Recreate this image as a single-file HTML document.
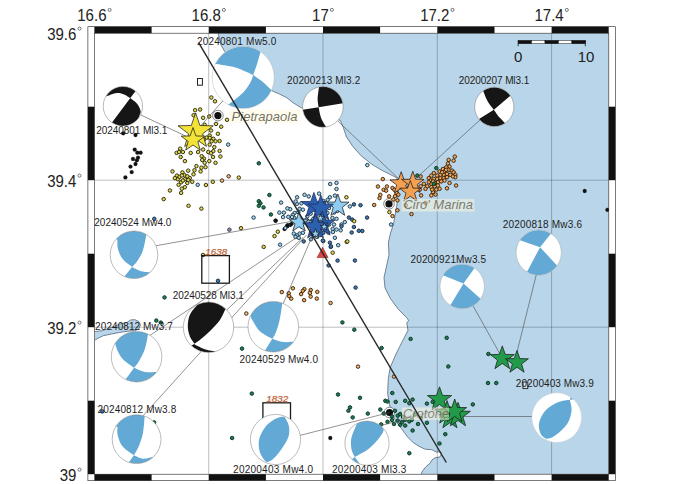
<!DOCTYPE html>
<html><head><meta charset="utf-8"><title>map</title>
<style>html,body{margin:0;padding:0;background:#fff}svg{display:block}text{font-family:"Liberation Sans",sans-serif}</style>
</head><body>
<svg width="673" height="484" viewBox="0 0 673 484">
<rect width="673" height="484" fill="#fff"/>
<path d="M218 33L220.8 44.7L224.5 51.2L235 62L250 75L262 85L271 90.3L279.3 94L286.8 97.7L292.4 102.3L301.7 108L315 112L330 116L340.3 120.4L343.4 127.7L346.5 137L352.8 146.4L361.1 155.8L371.5 164.1L381.9 170.3L392.3 175.5L397 178L398.5 190L397 204L393.5 224L390.5 233L388.4 242.4L389 254.8L386.3 267.2L384 277.5L385 287.9L390.2 298.2L398.5 309.5L406.8 317.8L408.6 320.5L406.8 323L408 330.4L401.3 343.4L395.8 354.5L390.2 367.5L388.3 378.7L387.6 393.6L390 407L393 416L397 423L401.6 428.8L407.4 436.8L413.2 442.6L418.9 446.2L424.7 449.1L432 449.8L436.3 452L440.7 452L441.4 454.1L439.9 457L434.9 457.8L432 459.9L429.8 463.5L426.2 466.4L422.6 470.8L421.1 474.2L608.8 474.2L608.8 33.2Z" fill="#b9d5e9"/>
<path d="M218 33L220.8 44.7L224.5 51.2L235 62L250 75L262 85L271 90.3L279.3 94L286.8 97.7L292.4 102.3L301.7 108L315 112L330 116L340.3 120.4L343.4 127.7L346.5 137L352.8 146.4L361.1 155.8L371.5 164.1L381.9 170.3L392.3 175.5L397 178L398.5 190L397 204L393.5 224L390.5 233L388.4 242.4L389 254.8L386.3 267.2L384 277.5L385 287.9L390.2 298.2L398.5 309.5L406.8 317.8L408.6 320.5L406.8 323L408 330.4L401.3 343.4L395.8 354.5L390.2 367.5L388.3 378.7L387.6 393.6L390 407L393 416L397 423L401.6 428.8L407.4 436.8L413.2 442.6L418.9 446.2L424.7 449.1L432 449.8L436.3 452L440.7 452L441.4 454.1L439.9 457L434.9 457.8L432 459.9L429.8 463.5L426.2 466.4L422.6 470.8L421.1 474.2" fill="none" stroke="#41586c" stroke-width="0.7" stroke-linejoin="round"/>
<path d="M95 331.5L102.4 330.7L111.5 327.4L119.8 324.1L127.2 322.4L130.5 320L134.7 319.6L138.8 321.6L140.5 324.9L138.8 329L134.7 330.7L128 331.2L119.8 332.4L111.5 334L103.3 335.7L98.3 338.1L95 340.1" fill="#b9d5e9" stroke="#41586c" stroke-width="0.7"/>
<line x1="208.7" y1="33.2" x2="208.7" y2="474.2" stroke="#26323c" stroke-width="0.5" stroke-opacity="0.62"/>
<line x1="323" y1="33.2" x2="323" y2="474.2" stroke="#26323c" stroke-width="0.5" stroke-opacity="0.62"/>
<line x1="437.3" y1="33.2" x2="437.3" y2="474.2" stroke="#26323c" stroke-width="0.5" stroke-opacity="0.62"/>
<line x1="551.6" y1="33.2" x2="551.6" y2="474.2" stroke="#26323c" stroke-width="0.5" stroke-opacity="0.62"/>
<line x1="94.4" y1="180.2" x2="608.8" y2="180.2" stroke="#26323c" stroke-width="0.5" stroke-opacity="0.62"/>
<line x1="94.4" y1="327.2" x2="608.8" y2="327.2" stroke="#26323c" stroke-width="0.5" stroke-opacity="0.62"/>
<rect x="87.9" y="26.7" width="527.4" height="6.5" fill="#fff"/>
<rect x="87.9" y="474.2" width="527.4" height="6.5" fill="#fff"/>
<rect x="87.9" y="26.7" width="6.5" height="454" fill="#fff"/>
<rect x="608.8" y="26.7" width="6.5" height="454" fill="#fff"/>
<rect x="94.4" y="26.7" width="57.2" height="6.5" fill="#111"/>
<rect x="94.4" y="474.2" width="57.2" height="6.5" fill="#111"/>
<rect x="208.7" y="26.7" width="57.2" height="6.5" fill="#111"/>
<rect x="208.7" y="474.2" width="57.2" height="6.5" fill="#111"/>
<rect x="323" y="26.7" width="57.1" height="6.5" fill="#111"/>
<rect x="323" y="474.2" width="57.1" height="6.5" fill="#111"/>
<rect x="437.3" y="26.7" width="57.2" height="6.5" fill="#111"/>
<rect x="437.3" y="474.2" width="57.2" height="6.5" fill="#111"/>
<rect x="551.6" y="26.7" width="57.1" height="6.5" fill="#111"/>
<rect x="551.6" y="474.2" width="57.1" height="6.5" fill="#111"/>
<rect x="87.9" y="106.7" width="6.5" height="73.5" fill="#111"/>
<rect x="608.8" y="106.7" width="6.5" height="73.5" fill="#111"/>
<rect x="87.9" y="253.7" width="6.5" height="73.5" fill="#111"/>
<rect x="608.8" y="253.7" width="6.5" height="73.5" fill="#111"/>
<rect x="87.9" y="400.7" width="6.5" height="73.5" fill="#111"/>
<rect x="608.8" y="400.7" width="6.5" height="73.5" fill="#111"/>
<rect x="87.9" y="26.7" width="527.4" height="454" fill="none" stroke="#222" stroke-width="0.6"/>
<rect x="94.4" y="33.2" width="514.4" height="441" fill="none" stroke="#222" stroke-width="0.6"/>
<text transform="translate(106.5 20.8) scale(0.95 1)" font-size="15.8" fill="#222" text-anchor="end">16.6</text>
<circle cx="109.6" cy="9.9" r="1.55" fill="none" stroke="#222" stroke-width="0.6"/>
<text transform="translate(220.8 20.8) scale(0.95 1)" font-size="15.8" fill="#222" text-anchor="end">16.8</text>
<circle cx="223.9" cy="9.9" r="1.55" fill="none" stroke="#222" stroke-width="0.6"/>
<text transform="translate(328.8 20.8) scale(0.95 1)" font-size="15.8" fill="#222" text-anchor="end">17</text>
<circle cx="331.9" cy="9.9" r="1.55" fill="none" stroke="#222" stroke-width="0.6"/>
<text transform="translate(449.4 20.8) scale(0.95 1)" font-size="15.8" fill="#222" text-anchor="end">17.2</text>
<circle cx="452.5" cy="9.9" r="1.55" fill="none" stroke="#222" stroke-width="0.6"/>
<text transform="translate(563.7 20.8) scale(0.95 1)" font-size="15.8" fill="#222" text-anchor="end">17.4</text>
<circle cx="566.8" cy="9.9" r="1.55" fill="none" stroke="#222" stroke-width="0.6"/>
<text transform="translate(76.4 39.5) scale(0.95 1)" font-size="15.8" fill="#222" text-anchor="end">39.6</text>
<circle cx="79.5" cy="28.6" r="1.55" fill="none" stroke="#222" stroke-width="0.6"/>
<text transform="translate(76.4 186.5) scale(0.95 1)" font-size="15.8" fill="#222" text-anchor="end">39.4</text>
<circle cx="79.5" cy="175.6" r="1.55" fill="none" stroke="#222" stroke-width="0.6"/>
<text transform="translate(76.4 333.5) scale(0.95 1)" font-size="15.8" fill="#222" text-anchor="end">39.2</text>
<circle cx="79.5" cy="322.6" r="1.55" fill="none" stroke="#222" stroke-width="0.6"/>
<text transform="translate(76.4 480.5) scale(0.95 1)" font-size="15.8" fill="#222" text-anchor="end">39</text>
<circle cx="79.5" cy="469.6" r="1.55" fill="none" stroke="#222" stroke-width="0.6"/>
<rect x="518.2" y="40.4" width="13.4" height="3.3" fill="#111" stroke="#111" stroke-width="0.5"/>
<rect x="531.6" y="40.4" width="13.4" height="3.3" fill="#fff" stroke="#111" stroke-width="0.5"/>
<rect x="545" y="40.4" width="13.4" height="3.3" fill="#111" stroke="#111" stroke-width="0.5"/>
<rect x="558.5" y="40.4" width="13.4" height="3.3" fill="#fff" stroke="#111" stroke-width="0.5"/>
<rect x="571.9" y="40.4" width="13.4" height="3.3" fill="#111" stroke="#111" stroke-width="0.5"/>
<line x1="518.2" y1="40.4" x2="518.2" y2="46.2" stroke="#111" stroke-width="0.8"/>
<line x1="585.3" y1="40.4" x2="585.3" y2="46.2" stroke="#111" stroke-width="0.8"/>
<text x="518.2" y="62.4" font-size="15" fill="#222" text-anchor="middle">0</text>
<text x="586" y="62.4" font-size="15" fill="#222" text-anchor="middle">10</text>
<clipPath id="mapclip"><rect x="94.4" y="33.2" width="514.4" height="441"/></clipPath>
<g clip-path="url(#mapclip)">
<rect x="197.5" y="78.5" width="4.9" height="6.7" fill="#fff" stroke="#222" stroke-width="1"/>
<rect x="523" y="382" width="4.8" height="6.6" fill="#d4e3ee" stroke="#222" stroke-width="0.9"/>
<circle cx="217.9" cy="115.6" r="5.3" fill="#fff" stroke="#555" stroke-width="0.7"/><circle cx="217.9" cy="115.6" r="3.6" fill="#111"/>
<circle cx="389" cy="203.9" r="5.3" fill="#fff" stroke="#555" stroke-width="0.7"/><circle cx="389" cy="203.9" r="3.6" fill="#111"/>
<circle cx="389.5" cy="412.5" r="5.3" fill="#fff" stroke="#555" stroke-width="0.7"/><circle cx="389.5" cy="412.5" r="3.6" fill="#111"/>
<g fill="#111" stroke="#111" stroke-width="0.3"><circle cx="584.7" cy="191" r="1.9"/><circle cx="607.4" cy="209.8" r="1.9"/><circle cx="135.5" cy="135" r="1.9"/><circle cx="134.7" cy="149.6" r="1.9"/><circle cx="137.3" cy="152.7" r="1.9"/><circle cx="140.6" cy="152.7" r="1.9"/><circle cx="138" cy="157.7" r="1.9"/><circle cx="133" cy="159" r="1.9"/><circle cx="136.8" cy="160.3" r="1.9"/><circle cx="135.5" cy="164" r="1.9"/><circle cx="130.5" cy="166.6" r="1.9"/><circle cx="131.7" cy="172.1" r="1.9"/><circle cx="125.4" cy="177.4" r="1.9"/><circle cx="123.2" cy="133.3" r="1.9"/><circle cx="275.6" cy="220.7" r="1.9"/><circle cx="287.4" cy="226" r="1.9"/><circle cx="330.3" cy="438" r="1.9"/><circle cx="290" cy="225" r="1.9"/><circle cx="284.5" cy="229" r="1.9"/></g>
<g fill="#1f7d52" stroke="#0b3323" stroke-width="0.95"><circle cx="258.8" cy="163.3" r="1.75"/><circle cx="269.4" cy="195" r="1.75"/><circle cx="258.8" cy="201.2" r="1.75"/><circle cx="260.4" cy="203.3" r="1.75"/><circle cx="258.8" cy="205.8" r="1.75"/><circle cx="263.5" cy="207.4" r="1.75"/><circle cx="270.9" cy="214.5" r="1.75"/><circle cx="164.5" cy="297.4" r="1.75"/><circle cx="156.3" cy="320.6" r="1.75"/><circle cx="160.8" cy="322.6" r="1.75"/><circle cx="242" cy="348.6" r="1.75"/><circle cx="251.8" cy="393.6" r="1.75"/><circle cx="154.1" cy="422.4" r="1.75"/><circle cx="232.1" cy="438" r="1.75"/><circle cx="342.4" cy="322.4" r="1.75"/><circle cx="354.3" cy="329.7" r="1.75"/><circle cx="381.6" cy="348" r="1.75"/><circle cx="338" cy="394.5" r="1.75"/><circle cx="360" cy="397.8" r="1.75"/><circle cx="350" cy="407.4" r="1.75"/><circle cx="348.4" cy="410.7" r="1.75"/><circle cx="352.7" cy="417.4" r="1.75"/><circle cx="367.8" cy="413.6" r="1.75"/><circle cx="380.3" cy="409.5" r="1.75"/><circle cx="383.7" cy="413.5" r="1.75"/><circle cx="381.2" cy="424.4" r="1.75"/><circle cx="387.5" cy="421.8" r="1.75"/><circle cx="385.3" cy="400.8" r="1.75"/><circle cx="387.5" cy="401.6" r="1.75"/><circle cx="395.7" cy="401.9" r="1.75"/><circle cx="405.2" cy="400.8" r="1.75"/><circle cx="409.3" cy="403.3" r="1.75"/><circle cx="412.6" cy="399.6" r="1.75"/><circle cx="397.7" cy="415.7" r="1.75"/><circle cx="400.2" cy="414" r="1.75"/><circle cx="397.7" cy="420.6" r="1.75"/><circle cx="400.2" cy="424.8" r="1.75"/><circle cx="401.9" cy="422.3" r="1.75"/><circle cx="405.2" cy="419.8" r="1.75"/><circle cx="405.2" cy="425.6" r="1.75"/><circle cx="409.3" cy="421.4" r="1.75"/><circle cx="411.8" cy="419.8" r="1.75"/><circle cx="412.6" cy="430.5" r="1.75"/><circle cx="409.3" cy="453.2" r="1.75"/><circle cx="448.3" cy="366.5" r="1.75"/><circle cx="488" cy="383" r="1.75"/><circle cx="496.3" cy="383" r="1.75"/><circle cx="472.8" cy="404.4" r="1.75"/><circle cx="426.9" cy="403.6" r="1.75"/><circle cx="432.7" cy="401.9" r="1.75"/><circle cx="426.9" cy="422.8" r="1.75"/><circle cx="445.3" cy="434.2" r="1.75"/><circle cx="439.5" cy="443.5" r="1.75"/><circle cx="392.3" cy="393" r="1.75"/><circle cx="410.6" cy="338.9" r="1.75"/><circle cx="446.7" cy="337.8" r="1.75"/><circle cx="488.4" cy="354" r="1.75"/><circle cx="418" cy="424" r="1.75"/><circle cx="392" cy="420" r="1.75"/><circle cx="394" cy="424" r="1.75"/><circle cx="403" cy="417" r="1.75"/><circle cx="415" cy="414.5" r="1.75"/><circle cx="421" cy="418" r="1.75"/><circle cx="395" cy="410.8" r="1.75"/><circle cx="392" cy="416.4" r="1.75"/></g>
<g fill="#dfd75a" stroke="#2e2c0c" stroke-width="0.95"><circle cx="211.3" cy="97.5" r="1.75"/><circle cx="215" cy="101.3" r="1.75"/><circle cx="195.1" cy="110.2" r="1.75"/><circle cx="200.1" cy="109.5" r="1.75"/><circle cx="193.6" cy="115.2" r="1.75"/><circle cx="203.1" cy="117.8" r="1.75"/><circle cx="209.2" cy="116.5" r="1.75"/><circle cx="227" cy="119.8" r="1.75"/><circle cx="216" cy="123.9" r="1.75"/><circle cx="221.2" cy="126.7" r="1.75"/><circle cx="204.7" cy="124.8" r="1.75"/><circle cx="211" cy="130.5" r="1.75"/><circle cx="217.9" cy="133.8" r="1.75"/><circle cx="209.7" cy="135.5" r="1.75"/><circle cx="213.3" cy="138.8" r="1.75"/><circle cx="215.5" cy="141.3" r="1.75"/><circle cx="219.6" cy="141" r="1.75"/><circle cx="206.7" cy="137.6" r="1.75"/><circle cx="203.9" cy="139.6" r="1.75"/><circle cx="209.7" cy="144.6" r="1.75"/><circle cx="214.3" cy="147.1" r="1.75"/><circle cx="219.6" cy="150.9" r="1.75"/><circle cx="213.3" cy="151.2" r="1.75"/><circle cx="208.3" cy="152" r="1.75"/><circle cx="211" cy="153.2" r="1.75"/><circle cx="203.1" cy="149.5" r="1.75"/><circle cx="198.1" cy="152" r="1.75"/><circle cx="190.7" cy="152.9" r="1.75"/><circle cx="180.2" cy="148.7" r="1.75"/><circle cx="176.6" cy="152.9" r="1.75"/><circle cx="179.1" cy="152" r="1.75"/><circle cx="182.9" cy="152" r="1.75"/><circle cx="180.7" cy="157" r="1.75"/><circle cx="184.9" cy="161.1" r="1.75"/><circle cx="201.7" cy="156.2" r="1.75"/><circle cx="203.9" cy="158.6" r="1.75"/><circle cx="204.7" cy="162.8" r="1.75"/><circle cx="209.3" cy="161.1" r="1.75"/><circle cx="215.5" cy="162.8" r="1.75"/><circle cx="220.4" cy="156.5" r="1.75"/><circle cx="213" cy="157" r="1.75"/><circle cx="196.4" cy="166.1" r="1.75"/><circle cx="201.4" cy="167.7" r="1.75"/><circle cx="205.5" cy="167.2" r="1.75"/><circle cx="194.5" cy="170.2" r="1.75"/><circle cx="200.6" cy="171.4" r="1.75"/><circle cx="188.2" cy="170.7" r="1.75"/><circle cx="182.4" cy="172.4" r="1.75"/><circle cx="172.5" cy="171.4" r="1.75"/><circle cx="176.9" cy="175.6" r="1.75"/><circle cx="193.5" cy="174.3" r="1.75"/><circle cx="189.8" cy="178.1" r="1.75"/><circle cx="184.8" cy="179.3" r="1.75"/><circle cx="177.9" cy="179.3" r="1.75"/><circle cx="181.1" cy="182.3" r="1.75"/><circle cx="187.3" cy="183" r="1.75"/><circle cx="192.2" cy="181.8" r="1.75"/><circle cx="178.6" cy="184.8" r="1.75"/><circle cx="184.8" cy="187.2" r="1.75"/><circle cx="181.8" cy="188.7" r="1.75"/><circle cx="174.9" cy="178.1" r="1.75"/><circle cx="169.9" cy="190.5" r="1.75"/><circle cx="181.1" cy="192.9" r="1.75"/><circle cx="163.7" cy="199.1" r="1.75"/><circle cx="188.5" cy="205.8" r="1.75"/><circle cx="201.4" cy="208.6" r="1.75"/><circle cx="205.9" cy="185" r="1.75"/><circle cx="212.8" cy="181.8" r="1.75"/><circle cx="202.2" cy="160" r="1.75"/><circle cx="238.8" cy="177.6" r="1.75"/><circle cx="203" cy="255" r="1.75"/><circle cx="241" cy="228.2" r="1.75"/><circle cx="332.7" cy="252.7" r="1.75"/><circle cx="346.7" cy="241.9" r="1.75"/><circle cx="182.9" cy="180.5" r="1.75"/><circle cx="179.6" cy="176.8" r="1.75"/><circle cx="184.4" cy="175.1" r="1.75"/><circle cx="187.3" cy="176.3" r="1.75"/><circle cx="181.9" cy="175.5" r="1.75"/><circle cx="188.3" cy="179.9" r="1.75"/><circle cx="211.6" cy="141.3" r="1.75"/><circle cx="209.8" cy="137.9" r="1.75"/></g>
<g fill="#f1a962" stroke="#3a240a" stroke-width="0.95"><circle cx="292.9" cy="288.3" r="1.75"/><circle cx="281.8" cy="292.1" r="1.75"/><circle cx="288.7" cy="293.3" r="1.75"/><circle cx="289.2" cy="296.2" r="1.75"/><circle cx="291.2" cy="298.7" r="1.75"/><circle cx="304.4" cy="289.1" r="1.75"/><circle cx="302.8" cy="290.8" r="1.75"/><circle cx="301.1" cy="294.1" r="1.75"/><circle cx="304.1" cy="300.2" r="1.75"/><circle cx="310.7" cy="290" r="1.75"/><circle cx="309.9" cy="292.9" r="1.75"/><circle cx="310.7" cy="296.6" r="1.75"/><circle cx="317.3" cy="291.9" r="1.75"/><circle cx="316.8" cy="298.6" r="1.75"/><circle cx="454.8" cy="156.6" r="1.75"/><circle cx="453.6" cy="160.7" r="1.75"/><circle cx="448.7" cy="159.9" r="1.75"/><circle cx="447.9" cy="163.5" r="1.75"/><circle cx="449.5" cy="166.5" r="1.75"/><circle cx="446.2" cy="167.3" r="1.75"/><circle cx="442.9" cy="169" r="1.75"/><circle cx="439.6" cy="171.4" r="1.75"/><circle cx="444.5" cy="171.4" r="1.75"/><circle cx="448.7" cy="169.8" r="1.75"/><circle cx="452" cy="170.6" r="1.75"/><circle cx="453.6" cy="172.3" r="1.75"/><circle cx="455.3" cy="174.8" r="1.75"/><circle cx="455.3" cy="177.2" r="1.75"/><circle cx="452.8" cy="176.4" r="1.75"/><circle cx="450.3" cy="174.8" r="1.75"/><circle cx="447" cy="173.9" r="1.75"/><circle cx="443.7" cy="174.8" r="1.75"/><circle cx="440.4" cy="174.8" r="1.75"/><circle cx="437.1" cy="175.6" r="1.75"/><circle cx="433.8" cy="173.1" r="1.75"/><circle cx="431.3" cy="175.6" r="1.75"/><circle cx="428.8" cy="178.1" r="1.75"/><circle cx="430.5" cy="180.5" r="1.75"/><circle cx="433.8" cy="178.9" r="1.75"/><circle cx="437.1" cy="178.9" r="1.75"/><circle cx="440.4" cy="178.1" r="1.75"/><circle cx="443.7" cy="178.1" r="1.75"/><circle cx="447" cy="177.2" r="1.75"/><circle cx="444.5" cy="180.5" r="1.75"/><circle cx="441.2" cy="181.4" r="1.75"/><circle cx="437.9" cy="182.2" r="1.75"/><circle cx="434.6" cy="183" r="1.75"/><circle cx="431.3" cy="183.8" r="1.75"/><circle cx="428.8" cy="182.2" r="1.75"/><circle cx="427.2" cy="186.3" r="1.75"/><circle cx="425.5" cy="188.8" r="1.75"/><circle cx="431.3" cy="187.1" r="1.75"/><circle cx="434.6" cy="186.3" r="1.75"/><circle cx="437.9" cy="185.5" r="1.75"/><circle cx="439.6" cy="188.8" r="1.75"/><circle cx="436.3" cy="189.6" r="1.75"/><circle cx="433" cy="192.1" r="1.75"/><circle cx="435.5" cy="194.6" r="1.75"/><circle cx="431.3" cy="195.4" r="1.75"/><circle cx="449.5" cy="183" r="1.75"/><circle cx="447" cy="188.3" r="1.75"/><circle cx="456.1" cy="185.5" r="1.75"/><circle cx="423.9" cy="183.8" r="1.75"/><circle cx="420.6" cy="186.3" r="1.75"/><circle cx="419.8" cy="189.6" r="1.75"/><circle cx="421.1" cy="195.4" r="1.75"/><circle cx="420.6" cy="176.4" r="1.75"/><circle cx="392.5" cy="188" r="1.75"/><circle cx="396.6" cy="192.9" r="1.75"/><circle cx="395" cy="196.2" r="1.75"/><circle cx="398.3" cy="194.6" r="1.75"/><circle cx="393.3" cy="199.5" r="1.75"/><circle cx="397.4" cy="200.4" r="1.75"/><circle cx="392.5" cy="216.1" r="1.75"/><circle cx="397.4" cy="210.3" r="1.75"/><circle cx="411.5" cy="214.1" r="1.75"/><circle cx="405.7" cy="205.3" r="1.75"/><circle cx="425.5" cy="202.9" r="1.75"/><circle cx="446.2" cy="169.8" r="1.75"/><circle cx="442.1" cy="172.3" r="1.75"/><circle cx="433" cy="181.4" r="1.75"/><circle cx="432.1" cy="189.6" r="1.75"/><circle cx="382.8" cy="179.1" r="1.75"/><circle cx="377.9" cy="186.5" r="1.75"/><circle cx="386.9" cy="186.5" r="1.75"/><circle cx="383.6" cy="189.8" r="1.75"/><circle cx="386.1" cy="190.7" r="1.75"/><circle cx="380.3" cy="194.8" r="1.75"/><circle cx="379.5" cy="198.1" r="1.75"/><circle cx="389.1" cy="196.4" r="1.75"/><circle cx="374.2" cy="205" r="1.75"/><circle cx="394.4" cy="189.8" r="1.75"/></g>
<g fill="#efbd8c" stroke="#3a240a" stroke-width="0.95"><circle cx="330.6" cy="303" r="1.75"/><circle cx="358" cy="366.6" r="1.75"/><circle cx="394" cy="376.6" r="1.75"/><circle cx="222" cy="180.6" r="1.75"/><circle cx="228.7" cy="176.3" r="1.75"/><circle cx="246.3" cy="313.5" r="1.75"/></g>
<g fill="#1f7d52" stroke="#0b3323" stroke-width="0.95"><circle cx="436.3" cy="168.1" r="1.75"/><circle cx="417.3" cy="175.6" r="1.75"/><circle cx="433.8" cy="183.8" r="1.75"/></g>
<g fill="#a3d3ee" stroke="#1c3848" stroke-width="0.95"><circle cx="330.2" cy="184" r="1.75"/><circle cx="336.5" cy="182.9" r="1.75"/><circle cx="336.5" cy="189" r="1.75"/><circle cx="334.9" cy="195.6" r="1.75"/><circle cx="329.9" cy="197.3" r="1.75"/><circle cx="349.8" cy="206.4" r="1.75"/><circle cx="344.8" cy="222.1" r="1.75"/><circle cx="336.5" cy="229.5" r="1.75"/><circle cx="340.7" cy="230.3" r="1.75"/><circle cx="332.9" cy="232" r="1.75"/><circle cx="328.3" cy="232.5" r="1.75"/><circle cx="334.9" cy="237.8" r="1.75"/><circle cx="323.3" cy="241.1" r="1.75"/><circle cx="330.7" cy="246.9" r="1.75"/><circle cx="338.2" cy="245.2" r="1.75"/><circle cx="391.1" cy="224.5" r="1.75"/><circle cx="327.4" cy="213" r="1.75"/><circle cx="332.4" cy="217.9" r="1.75"/><circle cx="336.5" cy="218.8" r="1.75"/><circle cx="334" cy="224.5" r="1.75"/><circle cx="341.5" cy="224.5" r="1.75"/><circle cx="253.6" cy="217.6" r="1.75"/><circle cx="281.1" cy="202.6" r="1.75"/><circle cx="279.4" cy="212.6" r="1.75"/><circle cx="283.9" cy="212.6" r="1.75"/><circle cx="283.1" cy="217.1" r="1.75"/><circle cx="290.2" cy="209.2" r="1.75"/><circle cx="288.3" cy="216.8" r="1.75"/><circle cx="297.1" cy="197.3" r="1.75"/><circle cx="296.8" cy="203.9" r="1.75"/><circle cx="304.5" cy="194.8" r="1.75"/><circle cx="308.7" cy="196.4" r="1.75"/><circle cx="319.1" cy="193.6" r="1.75"/><circle cx="294.6" cy="213" r="1.75"/><circle cx="299.6" cy="208.8" r="1.75"/><circle cx="302.9" cy="209.7" r="1.75"/><circle cx="294.3" cy="217.9" r="1.75"/><circle cx="285.5" cy="227.9" r="1.75"/><circle cx="280.1" cy="244.7" r="1.75"/><circle cx="293.8" cy="233.6" r="1.75"/><circle cx="297.1" cy="235.3" r="1.75"/><circle cx="299.6" cy="233.6" r="1.75"/><circle cx="302.9" cy="232.8" r="1.75"/><circle cx="295.5" cy="236.9" r="1.75"/><circle cx="298.8" cy="237.8" r="1.75"/><circle cx="327.7" cy="199.8" r="1.75"/><circle cx="329" cy="208" r="1.75"/><circle cx="316.9" cy="236.9" r="1.75"/><circle cx="295.5" cy="221.5" r="1.75"/><circle cx="325.4" cy="210.8" r="1.75"/><circle cx="318.5" cy="230.2" r="1.75"/><circle cx="295.6" cy="201.5" r="1.75"/><circle cx="321.5" cy="222.7" r="1.75"/><circle cx="332.7" cy="228.8" r="1.75"/><circle cx="310.6" cy="213.7" r="1.75"/><circle cx="301.4" cy="203.3" r="1.75"/><circle cx="313.3" cy="218.7" r="1.75"/><circle cx="307.3" cy="216.3" r="1.75"/><circle cx="315.7" cy="225.3" r="1.75"/><circle cx="326.8" cy="219.5" r="1.75"/><circle cx="287.8" cy="225.4" r="1.75"/><circle cx="292.8" cy="214.9" r="1.75"/><circle cx="292.1" cy="217" r="1.75"/><circle cx="301.5" cy="219.6" r="1.75"/><circle cx="323.4" cy="201.1" r="1.75"/><circle cx="308.1" cy="224.9" r="1.75"/><circle cx="310.7" cy="221.4" r="1.75"/><circle cx="313.4" cy="204.9" r="1.75"/><circle cx="319.6" cy="207.3" r="1.75"/><circle cx="337.3" cy="210.9" r="1.75"/><circle cx="321.3" cy="217" r="1.75"/><circle cx="325.5" cy="215.5" r="1.75"/><circle cx="329.1" cy="224.5" r="1.75"/><circle cx="313.9" cy="207.6" r="1.75"/><circle cx="334.2" cy="212.5" r="1.75"/><circle cx="315.8" cy="219.5" r="1.75"/><circle cx="314.5" cy="209.8" r="1.75"/><circle cx="298.3" cy="212.2" r="1.75"/><circle cx="320" cy="235.1" r="1.75"/><circle cx="325.2" cy="229.6" r="1.75"/><circle cx="322.5" cy="225.4" r="1.75"/><circle cx="315.3" cy="228.7" r="1.75"/><circle cx="323.8" cy="203.4" r="1.75"/><circle cx="327.1" cy="225.5" r="1.75"/><circle cx="312.8" cy="233.3" r="1.75"/><circle cx="301.7" cy="226.5" r="1.75"/><circle cx="332.9" cy="204.9" r="1.75"/><circle cx="312" cy="224.8" r="1.75"/><circle cx="325.6" cy="206" r="1.75"/><circle cx="306.4" cy="219.7" r="1.75"/><circle cx="313.5" cy="235.7" r="1.75"/><circle cx="310.9" cy="239.3" r="1.75"/><circle cx="320.8" cy="220.6" r="1.75"/><circle cx="287.4" cy="208.4" r="1.75"/><circle cx="228.2" cy="144.6" r="1.75"/><circle cx="197.7" cy="184.8" r="1.75"/><circle cx="367.3" cy="165.1" r="1.75"/></g>
<g fill="#3f7bb0" stroke="#16283c" stroke-width="0.95"><circle cx="353.9" cy="204.4" r="1.75"/><circle cx="360.5" cy="205.2" r="1.75"/><circle cx="367.1" cy="217.6" r="1.75"/><circle cx="348.9" cy="217.6" r="1.75"/><circle cx="352.2" cy="219.6" r="1.75"/><circle cx="353.9" cy="227" r="1.75"/><circle cx="358.8" cy="230.8" r="1.75"/><circle cx="351.7" cy="232.5" r="1.75"/><circle cx="341.5" cy="226.2" r="1.75"/><circle cx="329.9" cy="242.7" r="1.75"/><circle cx="323.3" cy="232.8" r="1.75"/><circle cx="303.7" cy="241.4" r="1.75"/><circle cx="322.8" cy="240.6" r="1.75"/><circle cx="331" cy="246.4" r="1.75"/><circle cx="328.6" cy="265.4" r="1.75"/><circle cx="337.6" cy="260.6" r="1.75"/><circle cx="354.9" cy="260.5" r="1.75"/><circle cx="355.6" cy="287.6" r="1.75"/><circle cx="362.3" cy="231" r="1.75"/><circle cx="218" cy="280.8" r="1.75"/><circle cx="154.3" cy="218.8" r="1.75"/><circle cx="102.3" cy="411.4" r="1.75"/></g>
<g fill="#9294ae" stroke="#33344a" stroke-width="0.95"><circle cx="229.4" cy="229.7" r="1.75"/></g>
<g fill="#111" stroke="#111" stroke-width="0.3"><circle cx="287.4" cy="225.5" r="1.9"/><circle cx="291.6" cy="223.8" r="1.9"/><circle cx="275.6" cy="220.6" r="1.9"/></g>
<g fill="#dfd75a" stroke="#2e2c0c" stroke-width="0.95"><circle cx="346.4" cy="197.3" r="1.75"/><circle cx="354.2" cy="221.2" r="1.75"/><circle cx="347.3" cy="241.4" r="1.75"/><circle cx="389.4" cy="212.1" r="1.75"/><circle cx="277.8" cy="231.7" r="1.75"/><circle cx="274.5" cy="236.1" r="1.75"/><circle cx="263.7" cy="246.9" r="1.75"/></g>
<rect x="201.8" y="255.6" width="27.6" height="27.6" fill="none" stroke="#1a1a1a" stroke-width="1.3"/>
<rect x="262.9" y="402.8" width="27.6" height="27.6" fill="none" stroke="#1a1a1a" stroke-width="1.3"/>
<line x1="122.9" y1="106.5" x2="193" y2="139.5" stroke="#4a4a4a" stroke-width="0.6"/>
<line x1="243" y1="78" x2="197" y2="130" stroke="#4a4a4a" stroke-width="0.6"/>
<line x1="322.9" y1="106.9" x2="401" y2="181" stroke="#4a4a4a" stroke-width="0.6"/>
<line x1="494.3" y1="106.9" x2="413" y2="181" stroke="#4a4a4a" stroke-width="0.6"/>
<line x1="134" y1="249.7" x2="297" y2="220.4" stroke="#4a4a4a" stroke-width="0.6"/>
<line x1="143" y1="340" x2="299" y2="236" stroke="#4a4a4a" stroke-width="0.6"/>
<line x1="208.5" y1="327.3" x2="303" y2="237.5" stroke="#4a4a4a" stroke-width="0.6"/>
<line x1="143" y1="415.8" x2="306.5" y2="235" stroke="#4a4a4a" stroke-width="0.6"/>
<line x1="273.3" y1="326.7" x2="314" y2="232" stroke="#4a4a4a" stroke-width="0.6"/>
<line x1="275.5" y1="441.7" x2="389.5" y2="412.5" stroke="#4a4a4a" stroke-width="0.6"/>
<line x1="367" y1="429.5" x2="447" y2="407.3" stroke="#4a4a4a" stroke-width="0.6"/>
<line x1="462.2" y1="286.4" x2="502.3" y2="358.2" stroke="#4a4a4a" stroke-width="0.6"/>
<line x1="541.8" y1="252.6" x2="514.5" y2="362" stroke="#4a4a4a" stroke-width="0.6"/>
<line x1="556.7" y1="416.5" x2="455" y2="416.5" stroke="#4a4a4a" stroke-width="0.6"/>
<path d="M195.6 113L199.9 125.5L213.2 125.8L202.6 133.8L206.5 146.5L195.6 138.9L184.7 146.5L188.6 133.8L178 125.8L191.3 125.5Z" fill="#f3e338" stroke="#1c1c1c" stroke-width="0.75" stroke-linejoin="miter"/>
<path d="M193 127.5L195.9 136L204.9 136.1L197.8 141.5L200.3 150.1L193 145L185.7 150.1L188.2 141.5L181.1 136.1L190.1 136Z" fill="#f3e338" stroke="#1c1c1c" stroke-width="0.75" stroke-linejoin="miter"/>
<path d="M401.2 171.7L404 179.7L412.4 179.9L405.7 185L408.1 193L401.2 188.2L394.3 193L396.7 185L390 179.9L398.4 179.7Z" fill="#f4a050" stroke="#1c1c1c" stroke-width="0.75" stroke-linejoin="miter"/>
<path d="M412.8 171.2L415.6 179.2L424 179.4L417.3 184.5L419.7 192.5L412.8 187.7L405.9 192.5L408.3 184.5L401.6 179.4L410 179.2Z" fill="#f4a050" stroke="#1c1c1c" stroke-width="0.75" stroke-linejoin="miter"/>
<path d="M410.3 180.5L413 188.1L421 188.3L414.6 193.2L416.9 200.9L410.3 196.3L403.7 200.9L406 193.2L399.6 188.3L407.6 188.1Z" fill="#f4a050" stroke="#1c1c1c" stroke-width="0.75" stroke-linejoin="miter"/>
<path d="M337.8 194L340.6 202L349 202.2L342.3 207.3L344.7 215.3L337.8 210.5L330.9 215.3L333.3 207.3L326.6 202.2L335 202Z" fill="#8fccf1" stroke="#1c1c1c" stroke-width="0.75" stroke-linejoin="miter"/>
<path d="M299 212L301.5 219.1L309 219.3L303 223.8L305.2 231L299 226.7L292.8 231L295 223.8L289 219.3L296.5 219.1Z" fill="#8fccf1" stroke="#1c1c1c" stroke-width="0.75" stroke-linejoin="miter"/>
<path d="M313.9 192.4L317 201.4L326.5 201.6L319 207.3L321.7 216.5L313.9 211L306.1 216.5L308.8 207.3L301.3 201.6L310.8 201.4Z" fill="#2d5fb0" stroke="#1b2c55" stroke-width="0.75" stroke-linejoin="miter"/>
<path d="M320.8 195L323.9 204L333.4 204.2L325.9 209.9L328.6 219.1L320.8 213.6L313 219.1L315.7 209.9L308.2 204.2L317.7 204Z" fill="#2d5fb0" stroke="#1b2c55" stroke-width="0.75" stroke-linejoin="miter"/>
<path d="M322.3 211L325.4 220L334.9 220.2L327.4 225.9L330.1 235.1L322.3 229.6L314.5 235.1L317.2 225.9L309.7 220.2L319.2 220Z" fill="#2d5fb0" stroke="#1b2c55" stroke-width="0.75" stroke-linejoin="miter"/>
<path d="M315.5 213.5L318.7 222.6L328.3 222.8L320.6 228.7L323.4 237.9L315.5 232.4L307.6 237.9L310.4 228.7L302.7 222.8L312.3 222.6Z" fill="#2d5fb0" stroke="#1b2c55" stroke-width="0.75" stroke-linejoin="miter"/>
<path d="M315.5 228.8L316.7 232.2L320.3 232.3L317.4 234.4L318.4 237.8L315.5 235.8L312.6 237.8L313.6 234.4L310.7 232.3L314.3 232.2Z" fill="#8fccf1" stroke="#1c1c1c" stroke-width="0.75" stroke-linejoin="miter"/>
<path d="M320.5 214.1L321.5 216.9L324.5 217L322.1 218.8L323 221.7L320.5 220L318 221.7L318.9 218.8L316.5 217L319.5 216.9Z" fill="#8fccf1" stroke="#1c1c1c" stroke-width="0.75" stroke-linejoin="miter"/>
<path d="M324.2 222.6L325.2 225.4L328.2 225.5L325.8 227.3L326.7 230.2L324.2 228.5L321.7 230.2L322.6 227.3L320.2 225.5L323.2 225.4Z" fill="#8fccf1" stroke="#1c1c1c" stroke-width="0.75" stroke-linejoin="miter"/>
<path d="M439.5 386.8L442.5 395.4L451.6 395.6L444.3 401.1L447 409.8L439.5 404.6L432 409.8L434.7 401.1L427.4 395.6L436.5 395.4Z" fill="#219a49" stroke="#1c1c1c" stroke-width="0.75" stroke-linejoin="miter"/>
<path d="M447 400.5L449.9 409L458.9 409.1L451.8 414.5L454.3 423.1L447 418L439.7 423.1L442.2 414.5L435.1 409.1L444.1 409Z" fill="#219a49" stroke="#1c1c1c" stroke-width="0.75" stroke-linejoin="miter"/>
<path d="M449.9 406L452.7 414.1L461.3 414.3L454.5 419.5L457 427.7L449.9 422.8L442.8 427.7L445.3 419.5L438.5 414.3L447.1 414.1Z" fill="#219a49" stroke="#1c1c1c" stroke-width="0.75" stroke-linejoin="miter"/>
<path d="M458 402.3L461.1 411.1L470.4 411.3L462.9 416.9L465.6 425.8L458 420.5L450.4 425.8L453.1 416.9L445.6 411.3L454.9 411.1Z" fill="#219a49" stroke="#1c1c1c" stroke-width="0.75" stroke-linejoin="miter"/>
<path d="M454.7 399L457.6 407.5L466.6 407.6L459.5 413L462 421.6L454.7 416.5L447.4 421.6L449.9 413L442.8 407.6L451.8 407.5Z" fill="#219a49" stroke="#1c1c1c" stroke-width="0.75" stroke-linejoin="miter"/>
<path d="M502.3 345.9L505.3 354.4L514.3 354.6L507.1 360.1L509.7 368.7L502.3 363.5L494.9 368.7L497.5 360.1L490.3 354.6L499.3 354.4Z" fill="#219a49" stroke="#1c1c1c" stroke-width="0.75" stroke-linejoin="miter"/>
<path d="M517 350.5L519.8 358.6L528.4 358.8L521.6 364L524.1 372.2L517 367.3L509.9 372.2L512.4 364L505.6 358.8L514.2 358.6Z" fill="#219a49" stroke="#1c1c1c" stroke-width="0.75" stroke-linejoin="miter"/>
<rect x="229.5" y="109.8" width="71" height="13.4" fill="#fff8dc" opacity="0.5"/>
<text x="231.6" y="121" font-size="13" fill="#5c5c50" font-style="italic" fill-opacity="0.88">Pietrapaola</text>
<rect x="401.5" y="199" width="73" height="12.6" fill="#fff8dc" opacity="0.5"/>
<text x="403.4" y="209.4" font-size="13" fill="#5c5c50" font-style="italic" fill-opacity="0.8">Ciro' Marina</text>
<rect x="402" y="407.4" width="47" height="12.6" fill="#fff8dc" opacity="0.5"/>
<text x="402.9" y="418.4" font-size="13" fill="#5c5c50" font-style="italic" fill-opacity="0.7">Crotone</text>
<path d="M322.6 247.3L328.1 257.6L317.1 257.6Z" fill="#e2443f" stroke="#5a1a18" stroke-width="0.5"/>
<clipPath id="c1"><circle cx="122.9" cy="106.2" r="19.7"/></clipPath><circle cx="122.9" cy="106.2" r="19.7" fill="#fff"/><g clip-path="url(#c1)" fill="#161616"><path d="M105.9 96.3A19.7 19.7 0 0 1 135.7 91.2L135.3 91.6L130.3 98.1L130.3 98.1C129.3 97.5 126.3 95.2 124.1 94.4C121.8 93.5 119.8 92.7 116.8 93C113.8 93.3 107.8 95.8 106 96.4Z"/><path d="M130.3 98.1C131.4 99.1 135.4 101.7 137.1 103.8C138.8 106 140.3 109.1 140.6 111.1C141 113.2 139.6 114.9 139.3 116C138.9 117.2 138.8 117.7 138.7 118L138.7 118A19.7 19.7 0 0 1 112 122.6Z"/></g><circle cx="122.9" cy="106.2" r="19.7" fill="none" stroke="#777" stroke-width="0.5"/>
<clipPath id="c2"><circle cx="243.2" cy="77.5" r="31.1"/></clipPath><circle cx="243.2" cy="77.5" r="31.1" fill="#fff"/><g clip-path="url(#c2)" fill="#62a9d5"><path d="M215.2 64A31.1 31.1 0 0 1 260.6 51.7L260.6 51.7C260 53.7 258.4 59.6 257.2 63.5C256 67.4 253.8 73.1 253.2 75L253.2 75C250.2 73.8 241.8 69.4 235.4 67.5C229 65.7 218.3 64.4 214.9 63.8Z"/><path d="M253.2 75C254.9 76.3 260.3 79.8 263.4 82.5C266.6 85.1 270.7 89.5 272.1 90.9L271.4 90.6A31.1 31.1 0 0 1 228.1 104.7L228 104.9C230.4 102.8 239.2 96.5 242.9 92.7C246.6 89 248.6 85.4 250.4 82.5C252.1 79.5 252.7 76.3 253.2 75Z"/></g><circle cx="243.2" cy="77.5" r="31.1" fill="none" stroke="#aaa" stroke-width="0.4"/>
<clipPath id="c3"><circle cx="322.9" cy="106.9" r="20.3"/></clipPath><circle cx="322.9" cy="106.9" r="20.3" fill="#fff"/><g clip-path="url(#c3)" fill="#161616"><path d="M319 87A20.3 20.3 0 0 1 342.9 103.3L343 103.2L318.6 107.3L318.6 107.3C318.5 105.9 317.6 102.4 317.6 99C317.7 95.6 318.8 89 319 87Z"/><path d="M318.6 107.3C319 109.1 319.9 114.6 321.1 117.9C322.3 121.1 325.1 125.3 325.9 126.8L326 127A20.3 20.3 0 0 1 302.8 109.8Z"/></g><circle cx="322.9" cy="106.9" r="20.3" fill="none" stroke="#777" stroke-width="0.5"/>
<clipPath id="c4"><circle cx="494.3" cy="106.9" r="19.6"/></clipPath><circle cx="494.3" cy="106.9" r="19.6" fill="#fff"/><g clip-path="url(#c4)" fill="#161616"><path d="M483.2 90.8A19.6 19.6 0 0 1 510.4 95.7L510.4 95.7L493.9 109.8L493.9 109.8C492.9 108.4 489.4 104.4 487.6 101.2C485.8 98 483.9 92.6 483.1 90.8Z"/><path d="M493.9 109.8C494.7 110.9 496.6 114.1 498.4 116.3C500.3 118.5 504 122 505.1 123.2L505.2 123.2A19.6 19.6 0 0 1 479 119.1Z"/></g><circle cx="494.3" cy="106.9" r="19.6" fill="none" stroke="#777" stroke-width="0.5"/>
<clipPath id="c5"><circle cx="134" cy="254.8" r="23.8"/></clipPath><circle cx="134" cy="254.8" r="23.8" fill="#fff"/><g clip-path="url(#c5)" fill="#62a9d5"><path d="M116.3 238.9A23.8 23.8 0 0 1 146.4 234.5L146.4 234.3C145.8 237 144.5 246 142.9 250.5C141.4 255 138.9 258.5 137.1 261.2C135.3 264 132.9 266 132.1 266.9L132.1 266.9C130.6 265.7 125.4 262.5 123.1 259.6C120.7 256.7 119 252.9 118.1 249.6C117.1 246.3 117.5 241.4 117.3 239.8Z"/><path d="M132.1 266.9C133.6 267.7 138.1 270.3 141.4 271.2C144.6 272.1 149.9 272.2 151.6 272.4L150.8 271.6A23.8 23.8 0 0 1 124.4 276.6Z"/></g><circle cx="134" cy="254.8" r="23.8" fill="none" stroke="#777" stroke-width="0.5"/>
<clipPath id="c6"><circle cx="208.5" cy="327.3" r="25.2"/></clipPath><circle cx="208.5" cy="327.3" r="25.2" fill="#fff"/><g clip-path="url(#c6)" fill="#161616"><path d="M197.1 304.8A25.2 25.2 0 0 1 225.5 308.7L225.6 308.7C224.6 310.6 222.2 316.7 219.6 320.5C216.9 324.3 213 328.1 209.8 331.3C206.6 334.5 203 337.6 200.4 339.6C197.9 341.7 195.6 343 194.6 343.7L194.6 343.7C193.8 342.5 191 339.3 189.9 336.4C188.7 333.5 187.8 329.9 187.8 326.3C187.8 322.7 188.3 318.3 189.9 314.7C191.4 311.1 195.9 306.5 197.2 304.9Z"/><path d="M194.1 343.9C194.8 344.3 196.3 345.4 198.2 346.3C200.1 347.3 202.5 348.7 205.5 349.6C208.5 350.5 214.3 351.4 216.1 351.7L215.9 351.4A25.2 25.2 0 0 1 191.4 345.8Z"/></g><circle cx="208.5" cy="327.3" r="25.2" fill="none" stroke="#777" stroke-width="0.5"/>
<clipPath id="c7"><circle cx="136.6" cy="356.7" r="25.3"/></clipPath><circle cx="136.6" cy="356.7" r="25.3" fill="#fff"/><g clip-path="url(#c7)" fill="#62a9d5"><path d="M114.8 343.9A25.3 25.3 0 0 1 147.9 334.1L148.2 333.4C147.6 336.1 146.3 345 144.7 349.6C143.1 354.3 140.6 358.2 138.9 361.3C137.1 364.3 134.9 366.7 134.1 367.8L134.1 367.8C132.3 366.4 126 362.4 123.2 359.5C120.4 356.6 118.7 352.9 117.4 350.4C116.1 347.8 115.7 345.1 115.3 344.1Z"/><path d="M134.1 367.8C135.8 368.5 140.8 371.2 144.7 371.9C148.6 372.6 155.4 372.1 157.6 372.1L156.9 371.8A25.3 25.3 0 0 1 125.5 379.4Z"/></g><circle cx="136.6" cy="356.7" r="25.3" fill="none" stroke="#777" stroke-width="0.5"/>
<clipPath id="c8"><circle cx="273.3" cy="326.7" r="25.3"/></clipPath><circle cx="273.3" cy="326.7" r="25.3" fill="#fff"/><g clip-path="url(#c8)" fill="#62a9d5"><path d="M250.3 316.1A25.3 25.3 0 0 1 282.3 303.1L282.4 302.7C281.9 305.5 280.8 314.8 279.6 319.9C278.5 324.9 276.8 329.9 275.6 333C274.4 336.2 272.8 337.9 272.3 338.8L272.3 338.8C270.2 337.6 263.2 334.3 259.9 331.3C256.6 328.2 254.2 323.2 252.6 320.6C251 318.1 250.7 316.8 250.3 316.1Z"/><path d="M272.3 338.8C274.1 339.4 279.4 341.7 283.2 342.1C287 342.6 293.1 341.7 295.1 341.6L294.1 341.1A25.3 25.3 0 0 1 265 350.6Z"/></g><circle cx="273.3" cy="326.7" r="25.3" fill="none" stroke="#777" stroke-width="0.5"/>
<clipPath id="c9"><circle cx="136.6" cy="439.2" r="24.4"/></clipPath><circle cx="136.6" cy="439.2" r="24.4" fill="#fff"/><g clip-path="url(#c9)" fill="#62a9d5"><path d="M115.9 426.2A24.4 24.4 0 0 1 144.5 416.1L144.7 416C144.4 418.9 143.9 428.1 142.9 433.1C142 438.1 140.3 442.6 138.8 446.3C137.3 450 134.7 453.8 133.9 455.3L133.9 455.3C132 453.8 125.2 449.7 122.4 446.3C119.7 442.9 118.4 438 117.6 434.8C116.8 431.6 117.6 428.5 117.6 427.2Z"/><path d="M133.9 455.3C135.4 455.9 139.7 458.5 142.9 458.7C146.2 459 151.7 457.1 153.4 456.8L153.5 456.8A24.4 24.4 0 0 1 128.9 462.3Z"/></g><circle cx="136.6" cy="439.2" r="24.4" fill="none" stroke="#777" stroke-width="0.5"/>
<clipPath id="c10"><circle cx="275.5" cy="439.5" r="25.1"/></clipPath><circle cx="275.5" cy="439.5" r="25.1" fill="#fff"/><g clip-path="url(#c10)" fill="#62a9d5"><path d="M284.5 416.7C283.6 416.8 280.8 416.7 278.8 417.4C276.7 418.1 274.4 419.2 272.2 420.7C270.1 422.2 267.6 424.1 265.7 426.4C263.8 428.8 261.9 432 260.7 434.7C259.5 437.5 258.8 440.1 258.7 443C258.5 445.9 259.1 449.5 259.8 452.1C260.6 454.6 262.1 456.9 263.2 458.6C264.3 460.3 265.9 461.7 266.5 462.3L266.5 462.3C267.4 461.9 270.2 461.4 272.2 459.8C274.3 458.2 276.7 455.4 278.8 452.8C280.8 450.3 282.9 447.1 284.5 444.5C286.1 441.9 287.5 439.6 288.3 437.2C289.1 434.9 289.3 432.7 289.3 430.5C289.3 428.2 289.1 426.2 288.3 423.9C287.5 421.6 285.2 417.9 284.5 416.7Z"/></g><circle cx="275.5" cy="439.5" r="25.1" fill="none" stroke="#777" stroke-width="0.5"/>
<clipPath id="c11"><circle cx="367" cy="443.2" r="22.1"/></clipPath><circle cx="367" cy="443.2" r="22.1" fill="#fff"/><g clip-path="url(#c11)" fill="#62a9d5"><path d="M357 423.5A22.1 22.1 0 0 1 380.8 425.9L380.7 426C381.2 426.7 384.1 428.3 383.6 430.6C383.1 432.9 380.3 436.6 377.8 439.7C375.4 442.7 371.6 446.4 368.8 448.7C365.9 451.1 362.9 452.4 360.6 453.8C358.3 455.2 355.8 456.6 354.8 457.1L354.8 457.1C354.3 455.9 352.2 452.5 351.5 449.6C350.9 446.7 350.7 442.8 351.1 439.7C351.5 436.5 353 433.3 354 430.6C355 427.9 356.5 424.7 357.1 423.5Z"/><path d="M354.8 457.1C355.3 457.7 356.3 459.2 357.3 460.4C358.2 461.7 360 463.9 360.6 464.6L360.5 464.3A22.1 22.1 0 0 1 351.8 459.3Z"/></g><circle cx="367" cy="443.2" r="22.1" fill="none" stroke="#777" stroke-width="0.5"/>
<clipPath id="c12"><circle cx="462.2" cy="286.5" r="22.2"/></clipPath><circle cx="462.2" cy="286.5" r="22.2" fill="#fff"/><g clip-path="url(#c12)" fill="#62a9d5"><path d="M443 275.3A22.2 22.2 0 0 1 474.6 268.1L474.6 267.9L463.5 283.4L463.5 283.4L443.6 275.4Z"/><path d="M463.5 283.4L481.1 299.2L480.7 298.8A22.2 22.2 0 0 1 450.3 305.2L450.2 305.4L463.5 283.4Z"/></g><circle cx="462.2" cy="286.5" r="22.2" fill="none" stroke="#999" stroke-width="0.4"/>
<clipPath id="c13"><circle cx="538.7" cy="252.6" r="22.6"/></clipPath><circle cx="538.7" cy="252.6" r="22.6" fill="#fff"/><g clip-path="url(#c13)" fill="#62a9d5"><path d="M519.9 240.1A22.6 22.6 0 0 1 551 233.7L551.6 232.7L540.1 247.2L540.1 247.2L520.6 240.4Z"/><path d="M540.1 247.2L557.9 266.4L557.1 265.7A22.6 22.6 0 0 1 526.8 271.8L527.2 271.4L540.1 247.2Z"/></g><circle cx="538.7" cy="252.6" r="22.6" fill="none" stroke="#999" stroke-width="0.4"/>
<clipPath id="c14"><circle cx="556.7" cy="417.6" r="24.8"/></clipPath><circle cx="556.7" cy="417.6" r="24.8" fill="#fff"/><g clip-path="url(#c14)" fill="#62a9d5"><path d="M569.8 399.7C567.9 400.2 562 400.4 557.9 402.2C553.9 404 548.7 407 545.5 410.4C542.4 413.8 539.9 418.9 539.1 422.8C538.3 426.7 539.4 431.1 540.6 433.7C541.7 436.4 545.1 437.9 546 438.7L546 438.7C546.9 438.5 549.2 438.8 551.5 437.7C553.8 436.6 556.9 434.5 559.7 432C562.4 429.5 565.9 426.4 567.9 422.8C569.8 419.2 571.2 414.3 571.6 410.4C571.9 406.6 570.1 401.5 569.8 399.7Z"/><path d="M569.8 399.7L571.3 395.3L571.3 395.3L575.3 399.2L575.3 399.2L569.8 399.7Z"/></g><circle cx="556.7" cy="417.6" r="24.8" fill="none" stroke="#ccc" stroke-width="0.4"/>
<line x1="198.6" y1="42.7" x2="446.3" y2="462.5" stroke="#262626" stroke-width="1.4"/>
</g>
<text x="197" y="44.8" font-size="10" fill="#1d1d1d" textLength="79.4" lengthAdjust="spacing">20240801 Mw5.0</text>
<text x="96.3" y="134.3" font-size="10" fill="#1d1d1d" textLength="71" lengthAdjust="spacing">20240801 Ml3.1</text>
<text x="287.1" y="83.8" font-size="10" fill="#1d1d1d" textLength="73.1" lengthAdjust="spacing">20200213 Ml3.2</text>
<text x="458.8" y="84.1" font-size="10" fill="#1d1d1d" textLength="70.4" lengthAdjust="spacing">20200207 Ml3.1</text>
<text x="94.2" y="225.6" font-size="10" fill="#1d1d1d" textLength="77.2" lengthAdjust="spacing">20240524 Mw4.0</text>
<text x="172.8" y="299.3" font-size="10" fill="#1d1d1d" textLength="71" lengthAdjust="spacing">20240528 Ml3.1</text>
<text x="95.1" y="330.3" font-size="10" fill="#1d1d1d" textLength="77.8" lengthAdjust="spacing">20240812 Mw3.7</text>
<text x="239.6" y="362.8" font-size="10" fill="#1d1d1d" textLength="78.4" lengthAdjust="spacing">20240529 Mw4.0</text>
<text x="97.5" y="412.8" font-size="10" fill="#1d1d1d" textLength="78.8" lengthAdjust="spacing">20240812 Mw3.8</text>
<text x="233.1" y="473" font-size="10" fill="#1d1d1d" textLength="79.9" lengthAdjust="spacing">20200403 Mw4.0</text>
<text x="332" y="473" font-size="10" fill="#1d1d1d" textLength="74.4" lengthAdjust="spacing">20200403 Ml3.3</text>
<text x="410.5" y="262.5" font-size="10" fill="#1d1d1d" textLength="75.6" lengthAdjust="spacing">20200921Mw3.5</text>
<text x="502.8" y="228.3" font-size="10" fill="#1d1d1d" textLength="79.3" lengthAdjust="spacing">20200818 Mw3.6</text>
<text x="515.8" y="387.4" font-size="10" fill="#1d1d1d" textLength="77.9" lengthAdjust="spacing">20200403 Mw3.9</text>
<text x="216.2" y="255" font-size="9.8" fill="#c0653a" text-anchor="middle" font-style="italic" stroke="#c0653a" stroke-width="0.25">1638</text>
<text x="277.2" y="402" font-size="9.8" fill="#c0653a" text-anchor="middle" font-style="italic" stroke="#c0653a" stroke-width="0.25">1832</text>
</svg></body></html>
